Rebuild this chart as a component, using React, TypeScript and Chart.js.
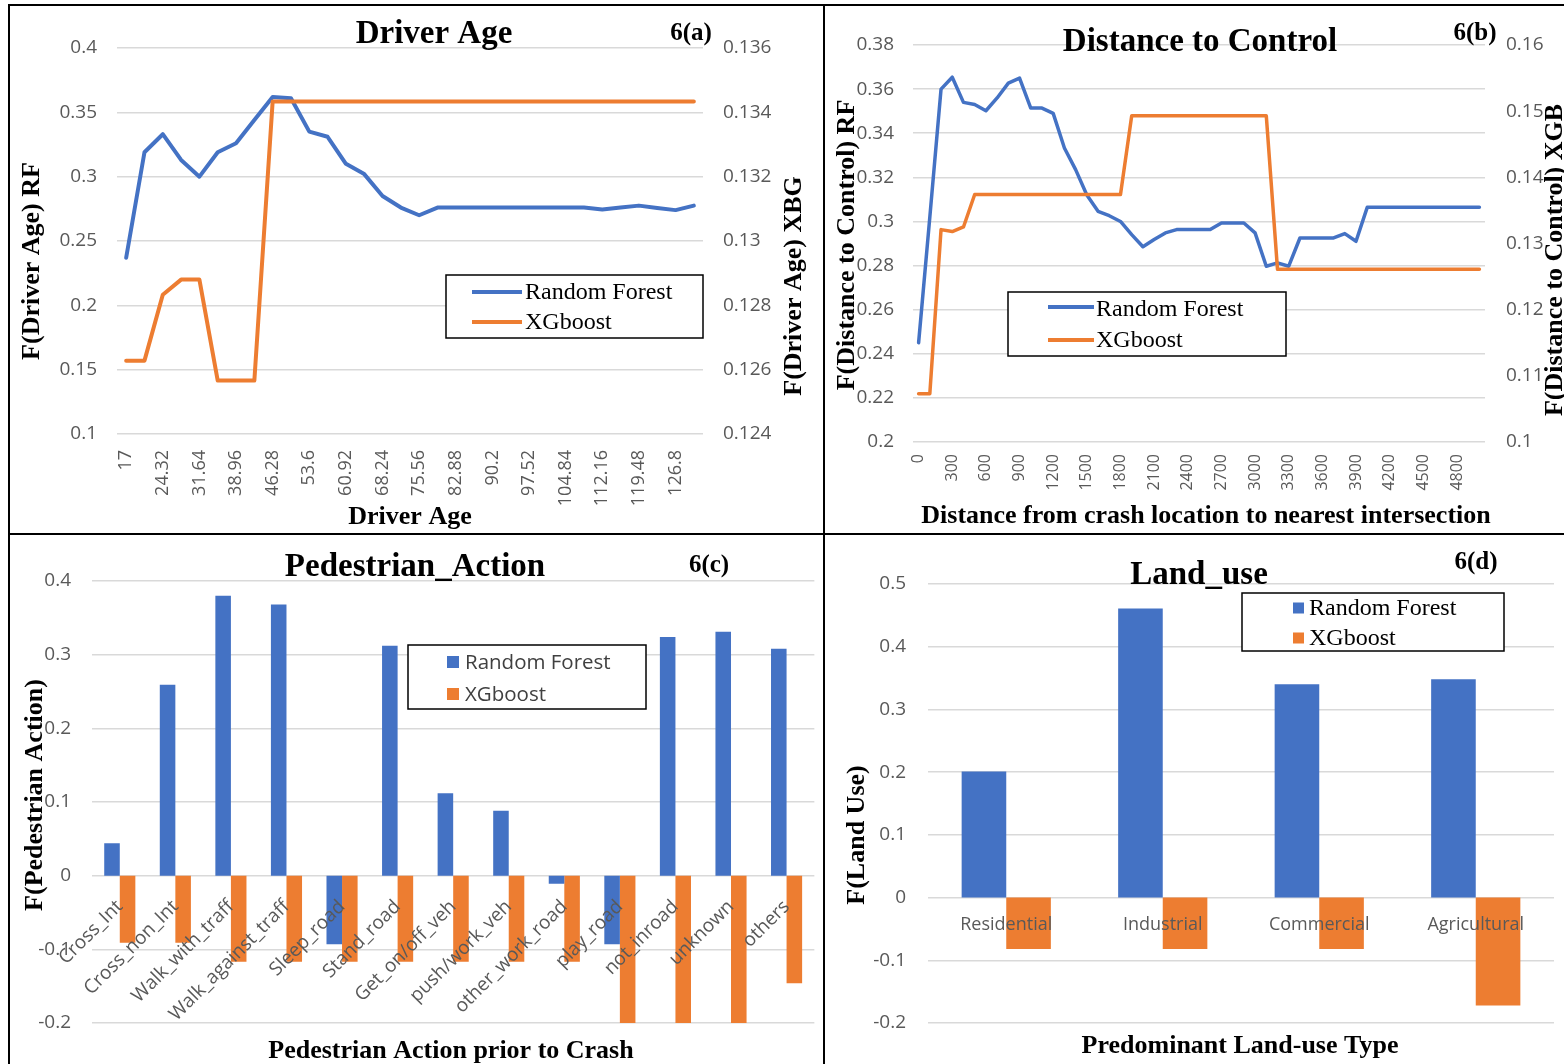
import React, { useEffect, useRef } from 'react';
import { Chart, registerables } from 'chart.js';
Chart.register(...registerables);

// ---------- data ----------
const ageLabels = ['17','20.66','24.32','27.98','31.64','35.3','38.96','42.62','46.28','49.94','53.6','57.26','60.92','64.58','68.24','71.9','75.56','79.22','82.88','86.54','90.2','93.86','97.52','101.18','104.84','108.5','112.16','115.82','119.48','123.14','126.8','130.46'];
const rfAge = [0.237,0.319,0.333,0.313,0.300,0.319,0.326,0.344,0.362,0.361,0.335,0.331,0.310,0.302,0.285,0.276,0.270,0.276,0.276,0.276,0.276,0.276,0.276,0.276,0.276,0.276,0.2745,0.276,0.2775,0.2757,0.274,0.2775];
const xgbAge = [0.12628,0.12628,0.12833,0.1288,0.1288,0.12566,0.12566,0.12566,0.13434,0.13434,0.13434,0.13434,0.13434,0.13434,0.13434,0.13434,0.13434,0.13434,0.13434,0.13434,0.13434,0.13434,0.13434,0.13434,0.13434,0.13434,0.13434,0.13434,0.13434,0.13434,0.13434,0.13434];

const distLabels = ['0','100','200','300','400','500','600','700','800','900','1000','1100','1200','1300','1400','1500','1600','1700','1800','1900','2000','2100','2200','2300','2400','2500','2600','2700','2800','2900','3000','3100','3200','3300','3400','3500','3600','3700','3800','3900','4000','4100','4200','4300','4400','4500','4600','4700','4800','4900','5000'];
const rfDist = [0.245,0.302,0.360,0.3654,0.354,0.353,0.3502,0.356,0.3627,0.365,0.3514,0.3514,0.349,0.3333,0.3235,0.312,0.3046,0.3026,0.300,0.294,0.2885,0.2918,0.2948,0.2963,0.2963,0.2963,0.2963,0.2993,0.2993,0.2993,0.2948,0.2797,0.2812,0.2797,0.2925,0.2925,0.2925,0.2925,0.2945,0.291,0.3064,0.3064,0.3064,0.3064,0.3064,0.3064,0.3064,0.3064,0.3064,0.3064,0.3064];
const xgbDist = [0.1073,0.1073,0.1321,0.1318,0.1325,0.1374,0.1374,0.1374,0.1374,0.1374,0.1374,0.1374,0.1374,0.1374,0.1374,0.1374,0.1374,0.1374,0.1374,0.1493,0.1493,0.1493,0.1493,0.1493,0.1493,0.1493,0.1493,0.1493,0.1493,0.1493,0.1493,0.1493,0.1261,0.1261,0.1261,0.1261,0.1261,0.1261,0.1261,0.1261,0.1261,0.1261,0.1261,0.1261,0.1261,0.1261,0.1261,0.1261,0.1261,0.1261,0.1261];

const pedCats = ['Cross_Int','Cross_non_Int','Walk_with_traff','Walk_against_traff','Sleep_road','Stand_road','Get_on/off_veh','push/work_veh','other_work_road','play_road','not_inroad','unknown','others'];
const rfPed = [0.044,0.259,0.380,0.368,-0.093,0.312,0.112,0.088,-0.011,-0.093,0.324,0.331,0.308];
const xgbPed = [-0.091,-0.091,-0.117,-0.117,-0.117,-0.117,-0.117,-0.117,-0.117,-0.2,-0.2,-0.2,-0.146];

const landCats = ['Residential','Industrial','Commercial','Agricultural'];
const rfLand = [0.201,0.461,0.340,0.348];
const xgbLand = [-0.082,-0.082,-0.082,-0.172];

const seriesNames = ['Random Forest', 'XGboost'];

// ---------- styles ----------
const BLUE = '#4472C4';
const ORANGE = '#ED7D31';
const GRID = '#D9D9D9';
const TICK = '#595959';
const SERIF = '"Liberation Serif", "Times New Roman", serif';
const SANS = '"Open Sans", "Liberation Sans", sans-serif';
const fmt = (v: any) => String(parseFloat(Number(v).toFixed(6)));

const TITLE = 33;
const AXT = 26;
const TAG = 25;

type TextSpec = { t: string; x: number; y: number; size: number; bold?: boolean; rot?: boolean; family?: string; color?: string };
type LegendSpec = { x: number; y: number; w: number; h: number; kind: 'line' | 'box'; m0: number; m1: number; rows: number[]; base: number[]; tx: number; font: string; color: string };

function annot(ox: number, oy: number, texts: TextSpec[], legend: LegendSpec) {
  return {
    id: 'annot',
    afterDraw(chart: any) {
      const ctx = chart.ctx as CanvasRenderingContext2D;
      ctx.save();
      ctx.translate(-ox, -oy);
      for (const s of texts) {
        ctx.save();
        ctx.font = `${s.bold ? 'bold ' : ''}${s.size}px ${s.family || SERIF}`;
        ctx.fillStyle = s.color || '#000';
        ctx.textAlign = 'center';
        ctx.translate(s.x, s.y);
        if (s.rot) {
          ctx.rotate(-Math.PI / 2);
          ctx.textBaseline = 'middle';
        } else {
          ctx.textBaseline = 'alphabetic';
        }
        ctx.fillText(s.t, 0, 0);
        ctx.restore();
      }
      const L = legend;
      ctx.fillStyle = '#fff';
      ctx.fillRect(L.x, L.y, L.w, L.h);
      ctx.strokeStyle = '#000';
      ctx.lineWidth = 1.5;
      ctx.strokeRect(L.x, L.y, L.w, L.h);
      chart.data.datasets.forEach((ds: any, i: number) => {
        const cy = L.rows[i];
        const color = L.kind === 'line' ? ds.borderColor : ds.backgroundColor;
        if (L.kind === 'line') {
          ctx.strokeStyle = color;
          ctx.lineWidth = 4;
          ctx.beginPath();
          ctx.moveTo(L.m0, cy);
          ctx.lineTo(L.m1, cy);
          ctx.stroke();
        } else {
          ctx.fillStyle = color;
          ctx.fillRect(L.m0, cy - (L.m1 - L.m0) / 2, L.m1 - L.m0, L.m1 - L.m0);
        }
        ctx.fillStyle = L.color;
        ctx.font = L.font;
        ctx.textAlign = 'left';
        ctx.textBaseline = 'alphabetic';
        ctx.fillText(ds.label, L.tx, L.base[i]);
      });
      ctx.restore();
    },
  };
}

const gridY = { color: GRID, lineWidth: 1.5, drawTicks: false };
const noGrid = { display: false, drawTicks: false };
const noBorder = { display: false };

function lineConfig(p: any) {
  return {
    type: 'line',
    data: {
      labels: p.labels,
      datasets: [
        { label: seriesNames[0], data: p.rf, borderColor: BLUE, backgroundColor: BLUE, borderWidth: p.lw, pointRadius: 0, yAxisID: 'y', order: 1, borderJoinStyle: 'round', borderCapStyle: 'round' },
        { label: seriesNames[1], data: p.xgb, borderColor: ORANGE, backgroundColor: ORANGE, borderWidth: p.lw, pointRadius: 0, yAxisID: 'y1', order: 0, borderJoinStyle: 'round', borderCapStyle: 'round' },
      ],
    },
    options: {
      responsive: false,
      animation: false,
      events: [],
      layout: { padding: { top: p.padTop, left: 0, right: 0, bottom: 0 } },
      plugins: { legend: { display: false }, title: { display: false }, tooltip: { enabled: false } },
      scales: {
        x: {
          type: 'category', offset: true, grid: noGrid, border: noBorder,
          ticks: { autoSkip: false, minRotation: 90, maxRotation: 90, padding: p.xPad, color: TICK, font: { family: SANS, size: p.xFont },
            callback: (v: any, i: number) => (i % p.every === 0 ? p.labels[i] : null) },
          afterFit: (s: any) => { s.height = p.xH; },
        },
        y: {
          position: 'left', min: p.yMin, max: p.yMax, grid: gridY, border: noBorder,
          ticks: { stepSize: p.yStep, padding: p.yPad, color: TICK, font: { family: SANS, size: 19 }, callback: fmt },
          afterFit: (s: any) => { s.width = p.yW; },
        },
        y1: {
          position: 'right', min: p.y1Min, max: p.y1Max, grid: noGrid, border: noBorder,
          ticks: { stepSize: p.y1Step, padding: p.y1Pad, color: TICK, font: { family: SANS, size: 19 }, callback: fmt },
          afterFit: (s: any) => { s.width = p.y1W; },
        },
      },
    },
    plugins: [annot(p.ox, p.oy, p.texts, p.legend)],
  };
}

function barConfig(p: any) {
  return {
    type: 'bar',
    data: {
      labels: p.labels,
      datasets: [
        { label: seriesNames[0], data: p.rf, backgroundColor: BLUE, borderWidth: 0 },
        { label: seriesNames[1], data: p.xgb, backgroundColor: ORANGE, borderWidth: 0 },
      ],
    },
    options: {
      responsive: false,
      animation: false,
      events: [],
      datasets: { bar: { categoryPercentage: p.catPct, barPercentage: 1 } },
      layout: { padding: { top: p.padTop, left: 0, right: p.padRight, bottom: p.padBottom } },
      plugins: { legend: { display: false }, title: { display: false }, tooltip: { enabled: false } },
      scales: {
        x: {
          type: 'category', position: { y: 0 }, offset: true, grid: noGrid, border: noBorder,
          ticks: { autoSkip: false, minRotation: p.rot, maxRotation: p.rot, padding: p.xPad, z: 1, color: TICK, font: { family: SANS, size: p.xFont } },
        },
        y: {
          position: 'left', min: p.yMin, max: p.yMax, grid: gridY, border: noBorder,
          ticks: { stepSize: p.yStep, padding: p.yPad, color: TICK, font: { family: SANS, size: 19 }, callback: fmt },
          afterFit: (s: any) => { s.width = p.yW; },
        },
      },
    },
    plugins: [annot(p.ox, p.oy, p.texts, p.legend)],
  };
}

const panels = [
  {
    left: 10, top: 6, width: 813, height: 527,
    config: lineConfig({
      labels: ageLabels, rf: rfAge, xgb: xgbAge, lw: 4, every: 2,
      padTop: 42, xH: 99, xPad: 16, xFont: 18,
      yMin: 0.1, yMax: 0.4, yStep: 0.05, yPad: 20, yW: 107,
      y1Min: 0.124, y1Max: 0.136, y1Step: 0.002, y1Pad: 20, y1W: 120,
      ox: 10, oy: 6,
      texts: [
        { t: 'Driver Age', x: 434, y: 43, size: TITLE, bold: true },
        { t: '6(a)', x: 691, y: 40, size: TAG, bold: true },
        { t: 'Driver Age', x: 410, y: 524, size: AXT, bold: true },
        { t: 'F(Driver Age) RF', x: 32, y: 261, size: AXT, bold: true, rot: true },
        { t: 'F(Driver Age) XBG', x: 794, y: 286, size: AXT, bold: true, rot: true },
      ],
      legend: { x: 446, y: 275, w: 257, h: 63, kind: 'line', m0: 472, m1: 522, rows: [292, 322], base: [299, 329], tx: 525, font: `24px ${SERIF}`, color: '#000' },
    }),
  },
  {
    left: 825, top: 6, width: 739, height: 527,
    config: lineConfig({
      labels: distLabels, rf: rfDist, xgb: xgbDist, lw: 3.5, every: 3,
      padTop: 39, xH: 91, xPad: 12, xFont: 16,
      yMin: 0.2, yMax: 0.38, yStep: 0.02, yPad: 19, yW: 88,
      y1Min: 0.1, y1Max: 0.16, y1Step: 0.01, y1Pad: 21, y1W: 79,
      ox: 825, oy: 6,
      texts: [
        { t: 'Distance to Control', x: 1200, y: 51, size: TITLE, bold: true },
        { t: '6(b)', x: 1475, y: 40, size: TAG, bold: true },
        { t: 'Distance from crash location to nearest intersection', x: 1206, y: 523, size: AXT, bold: true },
        { t: 'F(Distance to Control) RF', x: 847, y: 245, size: AXT, bold: true, rot: true },
        { t: 'F(Distance to Control) XGB', x: 1555, y: 260, size: AXT, bold: true, rot: true },
      ],
      legend: { x: 1008, y: 292, w: 278, h: 64, kind: 'line', m0: 1048, m1: 1094, rows: [307, 340], base: [316, 347], tx: 1096, font: `24px ${SERIF}`, color: '#000' },
    }),
  },
  {
    left: 10, top: 536, width: 813, height: 528,
    config: barConfig({
      labels: pedCats, rf: rfPed, xgb: xgbPed, catPct: 0.56, rot: 45, xPad: 20, xFont: 19,
      padTop: 45, padRight: 8, padBottom: 41,
      yMin: -0.2, yMax: 0.4, yStep: 0.1, yPad: 21, yW: 82,
      ox: 10, oy: 536,
      texts: [
        { t: 'Pedestrian_Action', x: 415, y: 576, size: TITLE, bold: true },
        { t: '6(c)', x: 709, y: 572, size: TAG, bold: true },
        { t: 'Pedestrian Action prior to Crash', x: 451, y: 1058, size: AXT, bold: true },
        { t: 'F(Pedestrian Action)', x: 35, y: 795, size: AXT, bold: true, rot: true },
      ],
      legend: { x: 408, y: 645, w: 238, h: 64, kind: 'box', m0: 447, m1: 459, rows: [662, 694], base: [669, 701], tx: 465, font: `20.5px ${SANS}`, color: '#404040' },
    }),
  },
  {
    left: 825, top: 536, width: 739, height: 528,
    config: barConfig({
      labels: landCats, rf: rfLand, xgb: xgbLand, catPct: 0.57, rot: 0, xPad: 17, xFont: 18,
      padTop: 48, padRight: 10, padBottom: 41,
      yMin: -0.2, yMax: 0.5, yStep: 0.1, yPad: 22, yW: 103,
      ox: 825, oy: 536,
      texts: [
        { t: 'Land_use', x: 1199, y: 584, size: TITLE, bold: true },
        { t: '6(d)', x: 1476, y: 569, size: TAG, bold: true },
        { t: 'Predominant Land-use Type', x: 1240, y: 1053, size: AXT, bold: true },
        { t: 'F(Land Use)', x: 857, y: 835, size: AXT, bold: true, rot: true },
      ],
      legend: { x: 1242, y: 593, w: 262, h: 58, kind: 'box', m0: 1293, m1: 1304, rows: [608, 638], base: [615, 645], tx: 1309, font: `24px ${SERIF}`, color: '#000' },
    }),
  },
];

function Panel({ left, top, width, height, config }: any) {
  const ref = useRef<HTMLCanvasElement>(null);
  useEffect(() => {
    if (!ref.current) return;
    const chart = new Chart(ref.current, config as any);
    return () => chart.destroy();
  }, [config]);
  return <canvas ref={ref} width={width} height={height} style={{ position: 'absolute', left, top, width, height }} />;
}

const line = (left: number, top: number, width: number, height: number) => (
  <div style={{ position: 'absolute', left, top, width, height, background: '#000' }} />
);

export default function App() {
  return (
    <div style={{ position: 'absolute', left: 0, top: 0, width: 1564, height: 1064, background: '#fff', overflow: 'hidden' }}>
      {panels.map((p, i) => (
        <Panel key={i} {...p} />
      ))}
      {line(8, 4, 1556, 2)}
      {line(8, 4, 2, 1060)}
      {line(823, 4, 2, 1060)}
      {line(8, 533, 1556, 2)}
    </div>
  );
}
